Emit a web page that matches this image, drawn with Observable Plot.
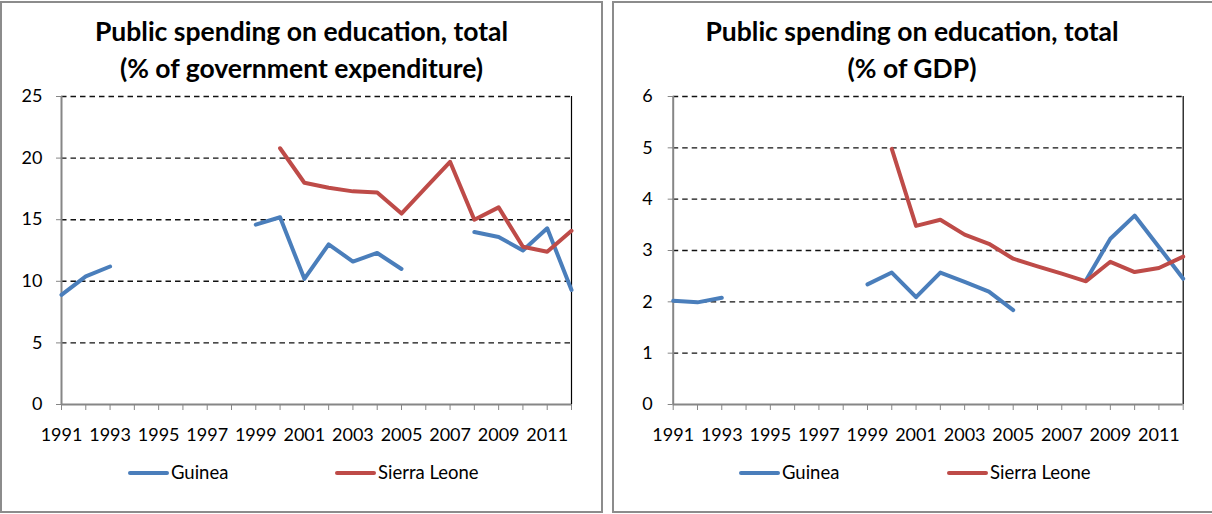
<!DOCTYPE html>
<html>
<head>
<meta charset="utf-8">
<script src="https://cdn.jsdelivr.net/npm/d3@7"></script>
<script src="https://cdn.jsdelivr.net/npm/@observablehq/plot@0.6"></script>
<style>
  html, body { margin: 0; padding: 0; background: #fff; }
  body { width: 1212px; height: 514px; overflow: hidden; position: relative; font-family: Lato, "Open Sans", sans-serif; }
  .panel { position: absolute; box-sizing: border-box; border: 2px solid #8c8c8c; background: #fff; }
  .title { position: absolute; text-align: center; font-weight: bold; font-size: 26.5px; line-height: 37px; color: #000; white-space: nowrap; }
  .chart { position: absolute; top: 0; }
  .sw { position: absolute; height: 4px; width: 41px; border-radius: 2px; }
  .lab { position: absolute; font-size: 18.5px; color: #000; line-height: 22px; white-space: nowrap; }
</style>
</head>
<body>
<div class="panel" style="left:0;top:1px;width:603px;height:512px;"></div>
<div class="panel" style="left:612px;top:1px;width:700px;height:512px;"></div>
<div class="title" style="left:0;top:13px;width:603px;">Public spending on education, total<br>(% of government expenditure)</div>
<div class="title" style="left:612px;top:13px;width:600px;">Public spending on education, total<br>(% of GDP)</div>
<div id="c1" class="chart" style="left:0;"></div>
<div id="c2" class="chart" style="left:606px;"></div>
<div id="legends"></div>
<script>
// ---- data ----
const years = [1991,1992,1993,1994,1995,1996,1997,1998,1999,2000,2001,2002,2003,2004,2005,2006,2007,2008,2009,2010,2011,2012];
const xTickLabels = [1991,1993,1995,1997,1999,2001,2003,2005,2007,2009,2011];
const seriesNames = ["Guinea", "Sierra Leone"];
const seriesColors = ["#4A7EBB", "#BE4B48"];

// % of government expenditure
const guineaGov = [8.9,10.4,11.2,null,null,null,null,null,14.6,15.2,10.2,13.0,11.6,12.3,11.0,null,null,14.0,13.6,12.5,14.3,9.3];
const sierraGov = [null,null,null,null,null,null,null,null,null,20.8,18.0,17.6,17.3,17.2,15.5,17.6,19.7,15.0,16.0,12.8,12.4,14.1];
const govTicks = [0,5,10,15,20,25];

// % of GDP
const guineaGdp = [2.02,1.99,2.08,null,null,null,null,null,2.34,2.57,2.09,2.57,2.39,2.2,1.84,null,null,2.42,3.23,3.68,3.07,2.45];
const sierraGdp = [null,null,null,null,null,null,null,null,null,4.98,3.48,3.6,3.31,3.13,2.84,2.69,2.55,2.4,2.78,2.58,2.66,2.88];
const gdpTicks = [0,1,2,3,4,5,6];

function chart(gu, sl, yTicks, opts) {
  const rows = years.map((yr, i) => ({year: yr, g: gu[i], s: sl[i]}));
  const yMax = yTicks[yTicks.length - 1];
  return Plot.plot({
    width: opts.width,
    height: 514,
    marginLeft: opts.ml,
    marginRight: opts.mr,
    marginTop: 96,
    marginBottom: 110,
    x: {domain: [1991, 2012]},
    y: {domain: [0, yMax]},
    style: {fontFamily: "Lato, 'Open Sans', sans-serif", fontSize: "18px", color: "#000", background: "transparent", overflow: "visible"},
    marks: [
      Plot.gridY(yTicks.filter(d => d > 0), {stroke: "#111", strokeOpacity: 1, strokeWidth: 1.4, strokeDasharray: "5.5,4"}),
      Plot.ruleX([2012], {stroke: "#000", strokeWidth: 1.2}),
      Plot.ruleX([1991], {stroke: "#868686", strokeWidth: 2}),
      Plot.ruleY([0], {stroke: "#868686", strokeWidth: 2}),
      Plot.axisY({ticks: yTicks, tickSize: 5, tickPadding: opts.tp, stroke: "#868686", fill: "#000", tickFormat: d => String(d), label: null}),
      Plot.axisX({ticks: years, tickSize: 6, tickPadding: 18, stroke: "#868686", fill: "#000",
        tickFormat: d => xTickLabels.includes(d) ? String(d) : "", label: null}),
      Plot.line(rows, {x: "year", y: "g", stroke: seriesColors[0], strokeWidth: 4, strokeLinejoin: "round", strokeLinecap: "round"}),
      Plot.line(rows, {x: "year", y: "s", stroke: seriesColors[1], strokeWidth: 4, strokeLinejoin: "round", strokeLinecap: "round"})
    ]
  });
}

document.getElementById("c1").appendChild(chart(guineaGov, sierraGov, govTicks, {width: 603, ml: 61, mr: 32, tp: 14}));
document.getElementById("c2").appendChild(chart(guineaGdp, sierraGdp, gdpTicks, {width: 606, ml: 66.7, mr: 29.3, tp: 15.5}));

// legends
const legendStarts = [[128, 335], [739, 947]];
const lg = document.getElementById("legends");
legendStarts.forEach(pair => {
  pair.forEach((x0, i) => {
    const sw = document.createElement("div");
    sw.className = "sw";
    sw.style.left = x0 + "px";
    sw.style.top = "471px";
    sw.style.background = seriesColors[i];
    lg.appendChild(sw);
    const lab = document.createElement("div");
    lab.className = "lab";
    lab.style.left = (x0 + 43) + "px";
    lab.style.top = "461px";
    lab.textContent = seriesNames[i];
    lg.appendChild(lab);
  });
});
</script>
</body>
</html>
